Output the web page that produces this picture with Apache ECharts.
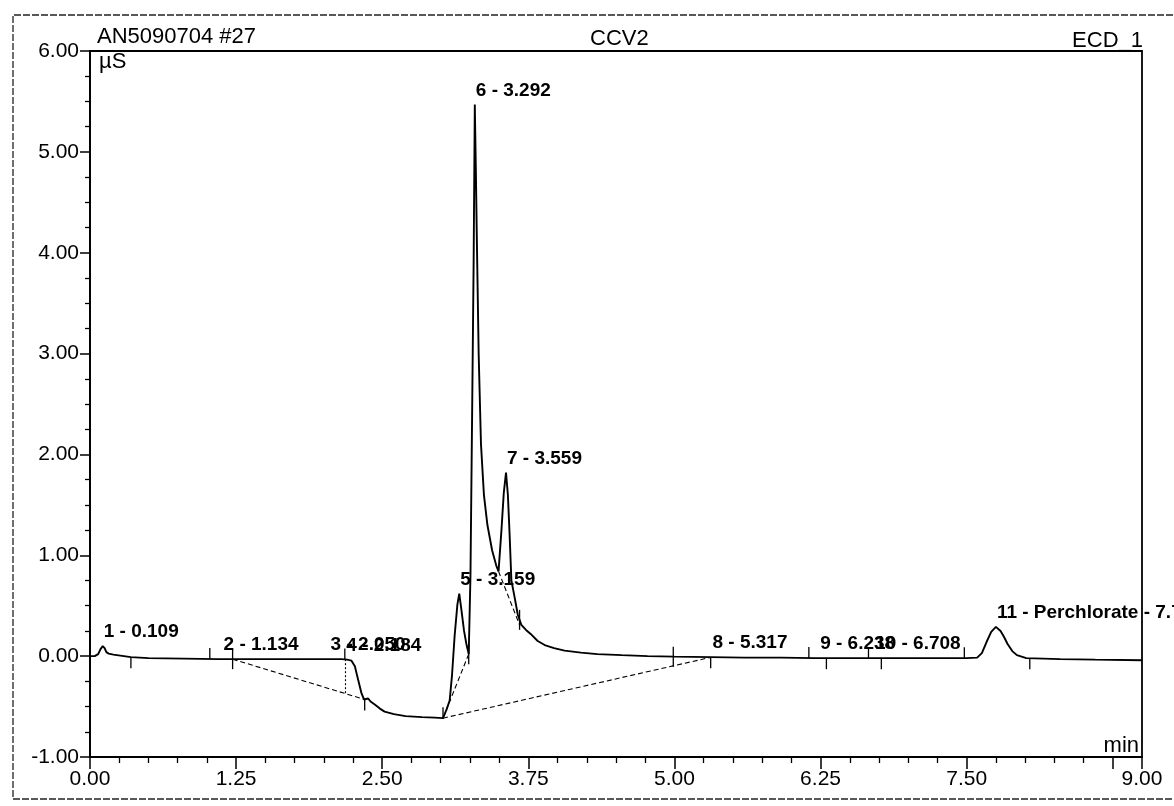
<!DOCTYPE html>
<html>
<head>
<meta charset="utf-8">
<script src="https://cdn.jsdelivr.net/npm/echarts@6/dist/echarts.min.js"></script>
<style>
  html, body { margin: 0; padding: 0; background: #fff; }
  #chart { width: 1174px; height: 806px; }
</style>
</head>
<body>
<div id="chart"></div>
<script>
// ECD_1 conductivity trace: retention time (min) and signal (µS)
const timeMin = [
  0.00, 0.04, 0.07, 0.09, 0.109, 0.125, 0.14, 0.16, 0.20, 0.26,
  0.35, 0.50, 0.80, 1.10, 1.50, 1.90, 2.15, 2.20, 2.237, 2.266,
  2.295, 2.323, 2.345, 2.36, 2.38, 2.40, 2.436, 2.48, 2.52, 2.60,
  2.70, 2.84, 2.95, 3.02, 3.05, 3.077, 3.097, 3.12, 3.143, 3.159,
  3.175, 3.20, 3.22, 3.24, 3.255, 3.27, 3.282, 3.292, 3.30, 3.31,
  3.325, 3.345, 3.37, 3.40, 3.44, 3.475, 3.495, 3.52, 3.54, 3.559,
  3.575, 3.59, 3.605, 3.63, 3.66, 3.69, 3.73, 3.77, 3.83, 3.89,
  3.97, 4.06, 4.20, 4.34, 4.55, 4.77, 5.00, 5.31, 5.60, 5.91,
  6.20, 6.50, 6.80, 7.20, 7.50, 7.59, 7.63, 7.67, 7.71, 7.75,
  7.79, 7.82, 7.85, 7.89, 7.93, 8.01, 8.30, 8.60, 9.00
];
const signalUS = [
  0.00, 0.00, 0.02, 0.07, 0.10, 0.08, 0.04, 0.025, 0.015, 0.005,
  -0.01, -0.02, -0.025, -0.03, -0.03, -0.03, -0.03, -0.035, -0.045, -0.10,
  -0.24, -0.37, -0.43, -0.43, -0.42, -0.45, -0.48, -0.52, -0.55, -0.575,
  -0.595, -0.605, -0.61, -0.615, -0.53, -0.44, -0.19, 0.21, 0.51, 0.62,
  0.48, 0.25, 0.12, 0.02, 0.80, 2.50, 3.90, 5.47, 4.90, 4.10,
  3.00, 2.10, 1.60, 1.30, 1.05, 0.90, 0.84, 1.25, 1.62, 1.82,
  1.60, 1.20, 0.75, 0.60, 0.41, 0.31, 0.26, 0.22, 0.15, 0.11,
  0.08, 0.055, 0.035, 0.02, 0.01, 0.00, -0.005, -0.01, -0.015, -0.015,
  -0.02, -0.02, -0.02, -0.02, -0.02, -0.015, 0.03, 0.14, 0.24, 0.29,
  0.25, 0.19, 0.12, 0.05, 0.01, -0.02, -0.03, -0.035, -0.04
];

// Peak table
const peakNumbers = [1, 2, 3, 4, 5, 6, 7, 8, 9, 10, 11];
const peakNames   = ['', '', '', '', '', '', '', '', '', '', 'Perchlorate'];
const peakTimes   = [0.109, 1.134, 2.050, 2.184, 3.159, 3.292, 3.559, 5.317, 6.238, 6.708, 7.750];

// Integration baselines: [[t1, s1], [t2, s2]]
const baselineSegments = [
  [[1.22, -0.03], [2.35, -0.43]],
  [[3.02, -0.615], [5.31, -0.012]],
  [[3.02, -0.615], [3.24, 0.02]],
  [[3.495, 0.84], [3.675, 0.31]]
];
const dropLines = [
  [[2.18, -0.03], [2.18, -0.37]]
];

// Peak delimiter marks (min)
const delimAbove  = [1.025, 2.18, 3.02, 6.15, 6.66, 7.48];
const delimBelow  = [0.35, 2.35, 5.31, 6.30, 6.77, 8.04];
const delimAcross = [1.22, 3.24, 3.675, 4.99];

const FONT = "'Liberation Sans', Arial, Helvetica, sans-serif";

function signalAt(t) {
  for (let i = 1; i < timeMin.length; i++) {
    if (t <= timeMin[i]) {
      const t0 = timeMin[i - 1], t1 = timeMin[i];
      const f = (t - t0) / (t1 - t0);
      return signalUS[i - 1] + f * (signalUS[i] - signalUS[i - 1]);
    }
  }
  return signalUS[signalUS.length - 1];
}

const tracePoints = timeMin.map((t, i) => [t, signalUS[i]]);

const peakLabelData = peakTimes.map((t, i) => ({
  value: [t, signalAt(t)],
  name: peakNumbers[i] + ' - ' + (peakNames[i] ? peakNames[i] + ' - ' : '') + t.toFixed(3)
}));

const delimData = []
  .concat(delimAbove.map(t => [t, signalAt(t), 1]))
  .concat(delimBelow.map(t => [t, signalAt(t), -1]))
  .concat(delimAcross.map(t => [t, signalAt(t), 0]));

const chart = echarts.init(document.getElementById('chart'), null, { renderer: 'canvas' });

chart.setOption({
  backgroundColor: '#ffffff',
  animation: false,
  grid: {
    left: 90, right: 32, top: 51, bottom: 49,
    show: true, borderColor: '#000', borderWidth: 1.8, backgroundColor: 'transparent'
  },
  xAxis: {
    type: 'value', min: 0, max: 9, interval: 1.25,
    axisLine: { show: true, onZero: false, lineStyle: { color: '#000', width: 1.8 } },
    axisTick: { show: true, inside: false, length: 12, lineStyle: { color: '#000', width: 1.5 } },
    minorTick: { show: true, splitNumber: 5, length: 6, lineStyle: { color: '#000', width: 1.3 } },
    splitLine: { show: false },
    axisLabel: {
      color: '#000', fontSize: 21, fontFamily: FONT, margin: 12,
      formatter: v => (Math.abs(v - 8.75) < 1e-6 ? '' : v.toFixed(2))
    }
  },
  yAxis: {
    type: 'value', min: -1, max: 6, interval: 1,
    axisLine: { show: true, onZero: false, lineStyle: { color: '#000', width: 1.8 } },
    axisTick: { show: true, inside: false, length: 10, lineStyle: { color: '#000', width: 1.5 } },
    minorTick: { show: true, splitNumber: 4, length: 5, lineStyle: { color: '#000', width: 1.3 } },
    splitLine: { show: false },
    axisLabel: {
      color: '#000', fontSize: 21, fontFamily: FONT, margin: 11,
      formatter: v => v.toFixed(2)
    }
  },
  graphic: [
    {
      type: 'polyline', silent: true,
      shape: { points: [[1200, 15], [13, 15], [13, 799], [1200, 799]] },
      style: { stroke: '#222', lineWidth: 1.3, lineDash: [7, 2], fill: null }
    },
    { type: 'text', x: 97, y: 48, style: { text: 'AN5090704 #27', font: '22px ' + FONT, fill: '#000', align: 'left', verticalAlign: 'bottom' } },
    { type: 'text', x: 590, y: 50, style: { text: 'CCV2', font: '22px ' + FONT, fill: '#000', align: 'left', verticalAlign: 'bottom' } },
    { type: 'text', x: 1143, y: 52, style: { text: 'ECD_1', font: '22px ' + FONT, fill: '#000', align: 'right', verticalAlign: 'bottom' } },
    { type: 'text', x: 99, y: 51, style: { text: 'µS', font: '22px ' + FONT, fill: '#000', align: 'left', verticalAlign: 'top' } },
    { type: 'text', x: 1139, y: 757, style: { text: 'min', font: '22px ' + FONT, fill: '#000', align: 'right', verticalAlign: 'bottom' } }
  ],
  series: [
    {
      name: 'ECD_1', type: 'line', data: tracePoints,
      showSymbol: false, symbol: 'none', smooth: false,
      lineStyle: { color: '#000', width: 1.9 }, z: 5
    },
    {
      name: 'baseline', type: 'lines', coordinateSystem: 'cartesian2d',
      data: baselineSegments.map(s => ({ coords: s })),
      lineStyle: { color: '#000', width: 1.1, type: [5, 3], opacity: 1 }, z: 4
    },
    {
      name: 'drop', type: 'lines', coordinateSystem: 'cartesian2d',
      data: dropLines.map(s => ({ coords: s })),
      lineStyle: { color: '#000', width: 1.1, type: [2, 2], opacity: 1 }, z: 4
    },
    {
      name: 'delimiters', type: 'custom', coordinateSystem: 'cartesian2d',
      data: delimData,
      renderItem: function (params, api) {
        const p = api.coord([api.value(0), api.value(1)]);
        const k = api.value(2);
        let y1, y2;
        if (k === 1) { y1 = p[1] - 11; y2 = p[1]; }
        else if (k === -1) { y1 = p[1]; y2 = p[1] + 11; }
        else { y1 = p[1] - 10; y2 = p[1] + 10; }
        return {
          type: 'line',
          shape: { x1: p[0], y1: y1, x2: p[0], y2: y2 },
          style: { stroke: '#000', lineWidth: 1.3 }
        };
      },
      z: 6
    },
    {
      name: 'peaks', type: 'scatter', data: peakLabelData,
      symbolSize: 1, itemStyle: { color: 'rgba(0,0,0,0)', opacity: 1 },
      label: {
        show: true, position: 'top', distance: 4, align: 'left', offset: [1, 0],
        formatter: p => p.name,
        color: '#000', fontSize: 19, fontWeight: 'bold', fontFamily: FONT
      },
      z: 7
    }
  ]
});
</script>
</body>
</html>
